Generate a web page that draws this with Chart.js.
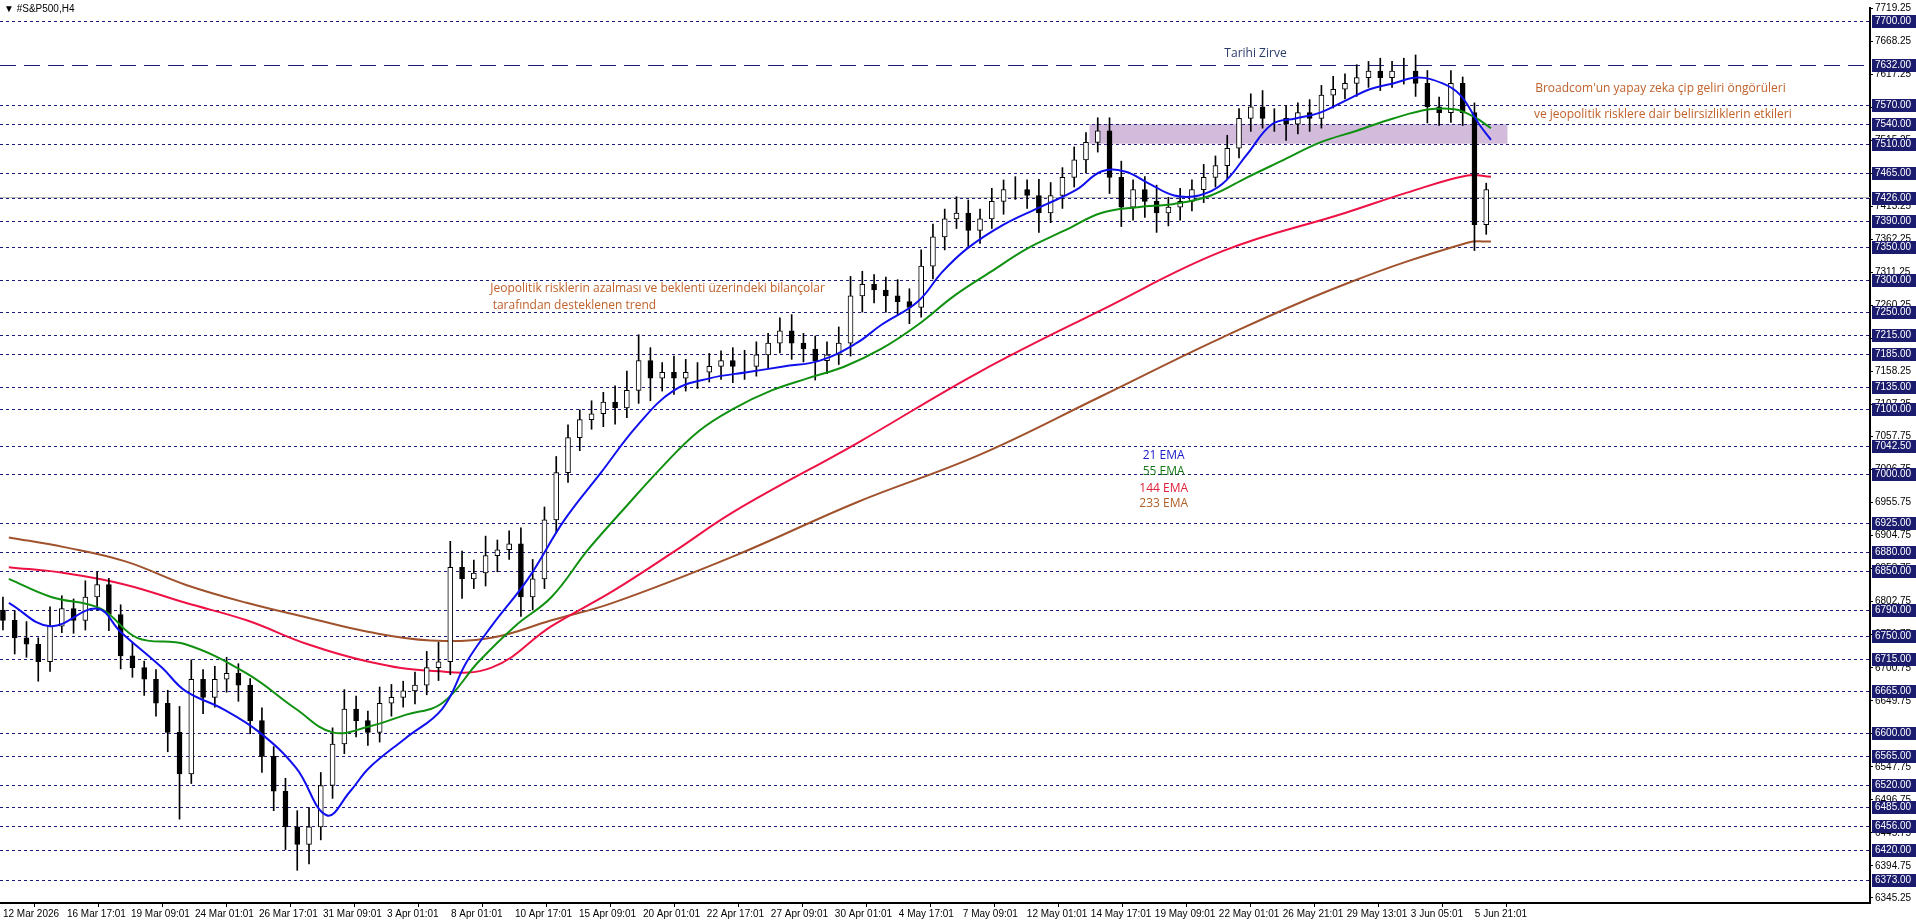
<!DOCTYPE html>
<html><head><meta charset="utf-8">
<script src="https://cdn.jsdelivr.net/npm/chart.js@4.4.1/dist/chart.umd.min.js"></script>
<style>html,body{margin:0;padding:0;background:#fff;overflow:hidden}canvas{display:block}</style>
</head><body>
<canvas id="c" width="1916" height="923"></canvas>
<script>
const firstOpen = 6790;
const closes = [6774,6747,6737,6710,6765,6792,6774,6810,6829,6783,
6719,6701,6683,6646,6601,6537,6683,6655,6683,6692,
6674,6619,6564,6510,6455,6428,6455,6519,6583,6637,
6619,6601,6646,6655,6665,6674,6701,6710,6856,6838,
6847,6874,6883,6892,6810,6838,6929,7002,7056,7084,
7093,7111,7102,7129,7175,7148,7157,7148,7157,7157,
7166,7175,7166,7166,7184,7202,7221,7202,7193,7175,
7184,7202,7275,7293,7284,7275,7266,7257,7321,7366,
7394,7403,7376,7394,7421,7439,7439,7430,7403,7430,
7458,7485,7512,7530,7458,7412,7439,7421,7403,7412,
7421,7439,7458,7476,7503,7549,7567,7549,7549,7540,
7558,7549,7585,7594,7603,7612,7622,7612,7622,7622,
7603,7567,7558,7603,7558,7385,7439];
const wickUp = [20,15,25,10,30,20,15,25,20,10,15,20,10,15,20,40,30,15,20,25,15,10,20,15,20,25,30,20,25,30,20,15,25,20,15,20,25,30,40,25,20,30,15,20,25,30,20,25,20,15,20,15,25,30,40,20,15,25,20,15,20,15,20,25,20,15,20,25,15,20,20,25,30,20,15,20,25,20,25,20,15,25,20,15,20,15,20,15,25,20,15,20,15,20,20,25,15,20,25,15,20,15,20,15,20,15,20,25,15,20,15,20,15,20,15,20,15,20,15,20,25,20,15,20,10,15,10];
const wickDn = [15,25,20,30,15,10,20,15,20,25,20,15,25,20,30,70,15,25,15,20,25,20,25,30,35,40,30,20,20,15,25,20,15,20,15,20,15,20,20,30,15,20,25,15,30,20,15,20,15,20,15,20,25,15,20,35,20,25,20,25,15,20,25,20,15,20,15,25,20,30,20,15,20,25,20,25,20,25,15,20,20,15,25,20,15,20,15,20,30,15,20,15,20,15,25,30,20,25,30,20,20,15,20,15,20,15,20,15,20,25,15,20,15,20,15,20,15,20,15,20,20,25,20,15,20,40,15];

const ema21X = [0.5,4,8,10,13.5,15.5,18.7,21.8,24.9,27.5,29.5,31.1,34.2,37.3,39.4,41.5,44.6,47.7,50.8,53.9,57,60.1,63.2,66.3,69.4,72.5,74.6,77.7,79.8,81.9,85,88.1,91.2,93.3,95.3,97.4,99.5,101.6,103.6,105.7,107.8,109.8,111.9,114,116.1,118.1,120.2,122.3,123.8,125.4,126.4];
const ema21Y = [6801,6765,6792,6756,6701,6665,6637,6601,6546,6473,6510,6546,6592,6637,6710,6765,6838,6929,7002,7075,7129,7148,7157,7166,7175,7202,7230,7266,7312,7348,7385,7412,7439,7467,7467,7448,7430,7430,7448,7494,7540,7549,7558,7576,7594,7603,7612,7603,7585,7540,7516];
const ema55X = [0.5,4.1,8.3,11.4,15.5,20.7,24.9,28,31.1,34.2,37.3,40.4,43.5,46.6,49.7,52.8,56,59.1,62.2,65.3,68.4,71.5,74.6,77.7,80.8,83.9,87,90.2,93.3,96.4,99.5,102.6,105.7,108.8,111.9,115,118.1,121.2,123.3,124.9,126.4];
const ema55Y = [6838,6810,6792,6747,6737,6692,6637,6601,6610,6628,6646,6710,6765,6810,6883,6947,7011,7066,7102,7129,7148,7166,7193,7230,7275,7312,7348,7376,7403,7412,7417,7430,7458,7485,7512,7530,7549,7563,7563,7552,7534];
const ema144X = [0.5,5.2,10.4,15.5,20.7,25.9,31.1,36.3,41.5,46.6,51.8,57,62.2,72.5,82.9,93.3,103.6,114,119.2,124.4,126.4];
const ema144Y = [6856,6847,6829,6801,6774,6737,6710,6696,6701,6765,6819,6880,6943,7047,7157,7253,7344,7403,7434,7461,7459];
const ema233X = [0.5,5.2,10.4,15.5,20.7,25.9,31.1,36.3,41.5,46.6,51.8,62.2,72.5,82.9,93.3,103.6,114,124.4,126.4];
const ema233Y = [6902,6887,6865,6829,6801,6778,6756,6743,6747,6774,6801,6874,6956,7029,7120,7211,7293,7357,7359];

const levels = [7700,7570,7540,7510,7465,7426,7390,7350,7300,7250,7215,7185,7135,7100,7042.5,7000,6925,6880,6850,6790,6750,6715,6665,6600,6565,6520,6485,6456,6420,6373];
const athLevel = 7632;
const priceTicks = [7719.25,7668.25,7617.25,7566.25,7515.25,7464.25,7413.25,7362.25,7311.25,7260.25,7209.25,7158.25,7107.25,7057.75,7006.75,6955.75,6904.75,6853.75,6802.75,6751.75,6700.75,6649.75,6598.75,6547.75,6496.75,6445.75,6394.75,6345.25];
const timeLabels = ["12 Mar 2026","16 Mar 17:01","19 Mar 09:01","24 Mar 01:01","26 Mar 17:01","31 Mar 09:01","3 Apr 01:01","8 Apr 01:01","10 Apr 17:01","15 Apr 09:01","20 Apr 01:01","22 Apr 17:01","27 Apr 09:01","30 Apr 01:01","4 May 17:01","7 May 09:01","12 May 01:01","14 May 17:01","19 May 09:01","22 May 01:01","26 May 21:01","29 May 13:01","3 Jun 05:01","5 Jun 21:01"];
const candlesPerLabel = 5.436;
const zone = {x0:92.3, x1:127.8, y0:7510, y1:7540};

const opens = closes.map((c,i)=> i===0 ? firstOpen : closes[i-1]);
const bodies = closes.map((c,i)=>({x:i, y:[Math.min(opens[i],c), Math.max(opens[i],c)]}));
const wicks = closes.map((c,i)=>({x:i, y:[Math.min(opens[i],c)-wickDn[i], Math.max(opens[i],c)+wickUp[i]]}));
const bodyColors = closes.map((c,i)=> c>=opens[i] ? '#ffffff' : '#000000');
const pts = (X,Y)=>X.map((x,i)=>({x, y:Y[i]}));

const AXF = '"Liberation Sans", sans-serif';
const TXF = '"Open Sans", sans-serif';
const overlay = {
  id:'overlay',
  beforeDatasetsDraw(ch){
    const {ctx, chartArea:a, scales:{x,y}} = ch;
    ctx.save();
    ctx.fillStyle = 'rgba(205,180,215,0.9)';
    const zx0=x.getPixelForValue(zone.x0), zx1=x.getPixelForValue(zone.x1);
    const zy0=y.getPixelForValue(zone.y1), zy1=y.getPixelForValue(zone.y0);
    ctx.fillRect(zx0,zy0,zx1-zx0,zy1-zy0);
    ctx.lineWidth = 1;
    ctx.strokeStyle = '#1a1a78';
    ctx.setLineDash([3,3]);
    for (const L of levels){
      const py = Math.round(y.getPixelForValue(L))+0.5;
      ctx.beginPath(); ctx.moveTo(a.left,py); ctx.lineTo(a.right,py); ctx.stroke();
    }
    ctx.setLineDash([16,8]);
    const pa = Math.round(y.getPixelForValue(athLevel))+0.5;
    ctx.beginPath(); ctx.moveTo(a.left,pa); ctx.lineTo(a.right,pa); ctx.stroke();
    ctx.setLineDash([]);
    ctx.strokeStyle = '#b8b8b8';
    const pc = Math.round(y.getPixelForValue(7428))+0.5;
    ctx.beginPath(); ctx.moveTo(a.left,pc); ctx.lineTo(a.right,pc); ctx.stroke();
    ctx.restore();
  },
  afterDraw(ch){
    const {ctx, chartArea:a, scales:{x,y}} = ch;
    ctx.save();
    ctx.font = '10px '+AXF;
    ctx.textBaseline = 'middle';
    for (const L of levels.concat([athLevel])){
      const py = Math.round(y.getPixelForValue(L));
      ctx.fillStyle = '#1c1c6e';
      ctx.fillRect(a.right+2, py-6, 44, 13);
      ctx.fillStyle = '#ffffff';
      ctx.textAlign = 'left';
      ctx.fillText(L.toFixed(2), a.right+5, py+0.5);
    }
    ctx.font = '12px '+TXF;
    ctx.textAlign = 'center';
    ctx.fillStyle = '#2a3a6a';
    ctx.fillText('Tarihi Zirve', x.getPixelForValue(106.4), y.getPixelForValue(7649));
    ctx.fillStyle = '#c0602a';
    ctx.fillText("Broadcom'un yapay zeka çip geliri öngörüleri", x.getPixelForValue(140.8), y.getPixelForValue(7595));
    ctx.fillText('ve jeopolitik risklere dair belirsizliklerin etkileri', x.getPixelForValue(141), y.getPixelForValue(7555));
    ctx.textAlign = 'left';
    ctx.fillText('Jeopolitik risklerin azalması ve beklenti üzerindeki bilançolar', x.getPixelForValue(41.4), y.getPixelForValue(7286));
    ctx.fillText('tarafından desteklenen trend', x.getPixelForValue(41.6), y.getPixelForValue(7260));
    ctx.textAlign = 'center';
    const lx = x.getPixelForValue(98.6);
    [['21 EMA','#1a1acc',7028],['55 EMA','#1a7a1a',7003],['144 EMA','#e0203a',6978],['233 EMA','#b0602a',6954]].forEach(([t,c,v])=>{
      ctx.fillStyle=c; ctx.fillText(t, lx, y.getPixelForValue(v));
    });
    ctx.fillStyle='#000'; ctx.textAlign='left'; ctx.font='10px '+AXF;
    ctx.fillText('\u25BC #S&P500,H4', 4, 9);
    ctx.restore();
  }
};

new Chart(document.getElementById('c'), {
  data:{datasets:[
    {type:'line', data:pts(ema233X,ema233Y), borderColor:'#a0522d', borderWidth:2, pointRadius:0, tension:0.4, order:5},
    {type:'line', data:pts(ema144X,ema144Y), borderColor:'#ee1144', borderWidth:2, pointRadius:0, tension:0.4, order:4},
    {type:'bar', data:wicks, backgroundColor:'#000', barThickness:1, grouped:false, order:3},
    {type:'bar', data:bodies, backgroundColor:bodyColors, borderColor:'#000', borderWidth:1, borderSkipped:false, barThickness:5, grouped:false, order:2},
    {type:'line', data:pts(ema55X,ema55Y), borderColor:'#109010', borderWidth:2, pointRadius:0, tension:0.4, order:1},
    {type:'line', data:pts(ema21X,ema21Y), borderColor:'#1010ee', borderWidth:2, pointRadius:0, tension:0.4, order:0}
  ]},
  options:{
    responsive:false, animation:false, devicePixelRatio:1,
    layout:{padding:{top:5,left:0,right:0,bottom:0}},
    plugins:{legend:{display:false}, tooltip:{enabled:false}},
    scales:{
      x:{type:'linear', min:-0.25, max:158.6, offset:false,
        afterBuildTicks(s){ s.ticks = timeLabels.map((t,i)=>({value:i*candlesPerLabel})); },
        afterFit(s){ s.height = 20; },
        grid:{drawOnChartArea:false, drawTicks:true, tickLength:4, color:'#000'},
        border:{color:'#000', width:2},
        ticks:{align:'start', maxRotation:0, autoSkip:false, padding:1, color:'#000', font:{family:AXF,size:10},
          callback:(v,i)=>timeLabels[i]}
      },
      y:{type:'linear', position:'right', min:6337.5, max:7719.5,
        afterBuildTicks(s){ s.ticks = priceTicks.map(v=>({value:v})); },
        afterFit(s){ s.width = 46; },
        grid:{drawOnChartArea:false, drawTicks:true, tickLength:3, color:'#000'},
        border:{color:'#000', width:2},
        ticks:{padding:2, color:'#000', font:{family:AXF,size:10}, callback:v=>Number(v).toFixed(2)}
      }
    }
  },
  plugins:[overlay]
});
</script>
</body></html>
